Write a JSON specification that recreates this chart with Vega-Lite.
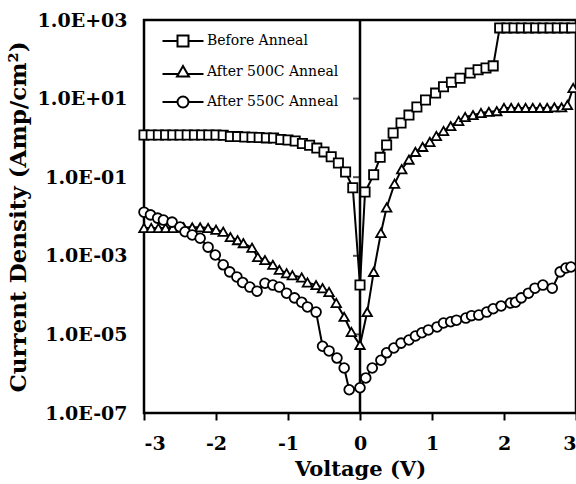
{
  "$schema": "https://vega.github.io/schema/vega-lite/v6.json",
  "width": 432,
  "height": 393,
  "autosize": {"type": "none"},
  "padding": {"left": 144, "top": 20, "right": 0, "bottom": 71},
  "background": "white",
  "config": {
    "font": "DejaVu Serif",
    "view": {"stroke": "black", "strokeWidth": 2.5},
    "axis": {"grid": false, "domain": false, "labelColor": "black", "titleColor": "black", "labelFont": "DejaVu Serif", "titleFont": "DejaVu Serif", "labelFontWeight": "bold", "titleFontWeight": "bold"}
  },
  "datasets": {
    "iv": [
      {"series": "Before Anneal", "v": -3.0, "j": 1.19},
      {"series": "Before Anneal", "v": -2.9, "j": 1.19},
      {"series": "Before Anneal", "v": -2.8, "j": 1.19},
      {"series": "Before Anneal", "v": -2.7, "j": 1.19},
      {"series": "Before Anneal", "v": -2.6, "j": 1.19},
      {"series": "Before Anneal", "v": -2.5, "j": 1.19},
      {"series": "Before Anneal", "v": -2.4, "j": 1.19},
      {"series": "Before Anneal", "v": -2.3, "j": 1.18},
      {"series": "Before Anneal", "v": -2.2, "j": 1.18},
      {"series": "Before Anneal", "v": -2.1, "j": 1.18},
      {"series": "Before Anneal", "v": -2.0, "j": 1.18},
      {"series": "Before Anneal", "v": -1.9, "j": 1.17},
      {"series": "Before Anneal", "v": -1.8, "j": 1.09},
      {"series": "Before Anneal", "v": -1.7, "j": 1.08},
      {"series": "Before Anneal", "v": -1.6, "j": 1.05},
      {"series": "Before Anneal", "v": -1.5, "j": 1.04},
      {"series": "Before Anneal", "v": -1.4, "j": 1.02},
      {"series": "Before Anneal", "v": -1.3, "j": 1.0},
      {"series": "Before Anneal", "v": -1.2, "j": 0.99},
      {"series": "Before Anneal", "v": -1.1, "j": 0.91},
      {"series": "Before Anneal", "v": -1.0, "j": 0.88},
      {"series": "Before Anneal", "v": -0.9, "j": 0.83},
      {"series": "Before Anneal", "v": -0.8, "j": 0.72},
      {"series": "Before Anneal", "v": -0.7, "j": 0.65},
      {"series": "Before Anneal", "v": -0.6, "j": 0.55},
      {"series": "Before Anneal", "v": -0.5, "j": 0.44},
      {"series": "Before Anneal", "v": -0.4, "j": 0.33},
      {"series": "Before Anneal", "v": -0.3, "j": 0.23},
      {"series": "Before Anneal", "v": -0.2, "j": 0.135},
      {"series": "Before Anneal", "v": -0.1, "j": 0.054},
      {"series": "Before Anneal", "v": 0.0, "j": 0.00018},
      {"series": "Before Anneal", "v": 0.07, "j": 0.042},
      {"series": "Before Anneal", "v": 0.19, "j": 0.115},
      {"series": "Before Anneal", "v": 0.28, "j": 0.32},
      {"series": "Before Anneal", "v": 0.37, "j": 0.66},
      {"series": "Before Anneal", "v": 0.46, "j": 1.33},
      {"series": "Before Anneal", "v": 0.57, "j": 2.4},
      {"series": "Before Anneal", "v": 0.68, "j": 3.8},
      {"series": "Before Anneal", "v": 0.79, "j": 6.1},
      {"series": "Before Anneal", "v": 0.91, "j": 9.2},
      {"series": "Before Anneal", "v": 1.05, "j": 13.8},
      {"series": "Before Anneal", "v": 1.16, "j": 20},
      {"series": "Before Anneal", "v": 1.27, "j": 26},
      {"series": "Before Anneal", "v": 1.39, "j": 33},
      {"series": "Before Anneal", "v": 1.53, "j": 45},
      {"series": "Before Anneal", "v": 1.64, "j": 54},
      {"series": "Before Anneal", "v": 1.75, "j": 60},
      {"series": "Before Anneal", "v": 1.85, "j": 68},
      {"series": "Before Anneal", "v": 1.94, "j": 630},
      {"series": "Before Anneal", "v": 2.04, "j": 630},
      {"series": "Before Anneal", "v": 2.14, "j": 630},
      {"series": "Before Anneal", "v": 2.24, "j": 630},
      {"series": "Before Anneal", "v": 2.34, "j": 630},
      {"series": "Before Anneal", "v": 2.44, "j": 630},
      {"series": "Before Anneal", "v": 2.54, "j": 630},
      {"series": "Before Anneal", "v": 2.64, "j": 630},
      {"series": "Before Anneal", "v": 2.74, "j": 630},
      {"series": "Before Anneal", "v": 2.84, "j": 630},
      {"series": "Before Anneal", "v": 2.94, "j": 630},

      {"series": "After 500C Anneal", "v": -3.0, "j": 0.0051},
      {"series": "After 500C Anneal", "v": -2.9, "j": 0.0051},
      {"series": "After 500C Anneal", "v": -2.8, "j": 0.0051},
      {"series": "After 500C Anneal", "v": -2.7, "j": 0.0051},
      {"series": "After 500C Anneal", "v": -2.6, "j": 0.0051},
      {"series": "After 500C Anneal", "v": -2.45, "j": 0.0053},
      {"series": "After 500C Anneal", "v": -2.33, "j": 0.0053},
      {"series": "After 500C Anneal", "v": -2.22, "j": 0.0053},
      {"series": "After 500C Anneal", "v": -2.11, "j": 0.0051},
      {"series": "After 500C Anneal", "v": -2.0, "j": 0.0046},
      {"series": "After 500C Anneal", "v": -1.9, "j": 0.0041},
      {"series": "After 500C Anneal", "v": -1.8, "j": 0.003},
      {"series": "After 500C Anneal", "v": -1.7, "j": 0.0025},
      {"series": "After 500C Anneal", "v": -1.62, "j": 0.0021},
      {"series": "After 500C Anneal", "v": -1.5, "j": 0.0016},
      {"series": "After 500C Anneal", "v": -1.42, "j": 0.00093},
      {"series": "After 500C Anneal", "v": -1.32, "j": 0.00078},
      {"series": "After 500C Anneal", "v": -1.21, "j": 0.00059},
      {"series": "After 500C Anneal", "v": -1.12, "j": 0.00044},
      {"series": "After 500C Anneal", "v": -1.02, "j": 0.00036},
      {"series": "After 500C Anneal", "v": -0.94, "j": 0.00032},
      {"series": "After 500C Anneal", "v": -0.81, "j": 0.00028},
      {"series": "After 500C Anneal", "v": -0.73, "j": 0.00021},
      {"series": "After 500C Anneal", "v": -0.61, "j": 0.00018},
      {"series": "After 500C Anneal", "v": -0.52, "j": 0.00015},
      {"series": "After 500C Anneal", "v": -0.43, "j": 0.00012},
      {"series": "After 500C Anneal", "v": -0.33, "j": 0.000063},
      {"series": "After 500C Anneal", "v": -0.22, "j": 0.000028},
      {"series": "After 500C Anneal", "v": -0.12, "j": 0.0000115},
      {"series": "After 500C Anneal", "v": 0.0, "j": 0.0000054},
      {"series": "After 500C Anneal", "v": 0.1, "j": 0.000037},
      {"series": "After 500C Anneal", "v": 0.19, "j": 0.00039},
      {"series": "After 500C Anneal", "v": 0.29, "j": 0.0038},
      {"series": "After 500C Anneal", "v": 0.37, "j": 0.017},
      {"series": "After 500C Anneal", "v": 0.48, "j": 0.068},
      {"series": "After 500C Anneal", "v": 0.58, "j": 0.16},
      {"series": "After 500C Anneal", "v": 0.68, "j": 0.28},
      {"series": "After 500C Anneal", "v": 0.77, "j": 0.44},
      {"series": "After 500C Anneal", "v": 0.87, "j": 0.59},
      {"series": "After 500C Anneal", "v": 0.97, "j": 0.79},
      {"series": "After 500C Anneal", "v": 1.06, "j": 1.12},
      {"series": "After 500C Anneal", "v": 1.16, "j": 1.5},
      {"series": "After 500C Anneal", "v": 1.26, "j": 2.0},
      {"series": "After 500C Anneal", "v": 1.37, "j": 2.7},
      {"series": "After 500C Anneal", "v": 1.46, "j": 3.4},
      {"series": "After 500C Anneal", "v": 1.57, "j": 3.8},
      {"series": "After 500C Anneal", "v": 1.68, "j": 4.3},
      {"series": "After 500C Anneal", "v": 1.79, "j": 4.6},
      {"series": "After 500C Anneal", "v": 1.9, "j": 4.8},
      {"series": "After 500C Anneal", "v": 2.0, "j": 5.8},
      {"series": "After 500C Anneal", "v": 2.1, "j": 5.8},
      {"series": "After 500C Anneal", "v": 2.2, "j": 5.8},
      {"series": "After 500C Anneal", "v": 2.3, "j": 5.8},
      {"series": "After 500C Anneal", "v": 2.4, "j": 5.8},
      {"series": "After 500C Anneal", "v": 2.5, "j": 5.8},
      {"series": "After 500C Anneal", "v": 2.6, "j": 5.8},
      {"series": "After 500C Anneal", "v": 2.7, "j": 6.0},
      {"series": "After 500C Anneal", "v": 2.8, "j": 6.0},
      {"series": "After 500C Anneal", "v": 2.88, "j": 6.9},
      {"series": "After 500C Anneal", "v": 2.96, "j": 18.6},

      {"series": "After 550C Anneal", "v": -3.0, "j": 0.0129},
      {"series": "After 550C Anneal", "v": -2.91, "j": 0.011},
      {"series": "After 550C Anneal", "v": -2.81, "j": 0.0091},
      {"series": "After 550C Anneal", "v": -2.73, "j": 0.0081},
      {"series": "After 550C Anneal", "v": -2.61, "j": 0.0072},
      {"series": "After 550C Anneal", "v": -2.5, "j": 0.0054},
      {"series": "After 550C Anneal", "v": -2.43, "j": 0.0041},
      {"series": "After 550C Anneal", "v": -2.33, "j": 0.0034},
      {"series": "After 550C Anneal", "v": -2.22, "j": 0.0028},
      {"series": "After 550C Anneal", "v": -2.11, "j": 0.00166},
      {"series": "After 550C Anneal", "v": -2.01, "j": 0.00105},
      {"series": "After 550C Anneal", "v": -1.9, "j": 0.00059},
      {"series": "After 550C Anneal", "v": -1.81, "j": 0.00039},
      {"series": "After 550C Anneal", "v": -1.71, "j": 0.00029},
      {"series": "After 550C Anneal", "v": -1.63, "j": 0.00021},
      {"series": "After 550C Anneal", "v": -1.53, "j": 0.00016},
      {"series": "After 550C Anneal", "v": -1.43, "j": 0.000126},
      {"series": "After 550C Anneal", "v": -1.32, "j": 0.0002},
      {"series": "After 550C Anneal", "v": -1.21, "j": 0.00018},
      {"series": "After 550C Anneal", "v": -1.12, "j": 0.00016},
      {"series": "After 550C Anneal", "v": -1.02, "j": 0.000112},
      {"series": "After 550C Anneal", "v": -0.91, "j": 0.000085},
      {"series": "After 550C Anneal", "v": -0.81, "j": 0.000066},
      {"series": "After 550C Anneal", "v": -0.73, "j": 0.00005},
      {"series": "After 550C Anneal", "v": -0.61, "j": 0.000037},
      {"series": "After 550C Anneal", "v": -0.52, "j": 0.000005},
      {"series": "After 550C Anneal", "v": -0.43, "j": 0.0000038},
      {"series": "After 550C Anneal", "v": -0.32, "j": 0.0000025},
      {"series": "After 550C Anneal", "v": -0.22, "j": 0.0000014},
      {"series": "After 550C Anneal", "v": -0.15, "j": 0.00000039},
      {"series": "After 550C Anneal", "v": 0.0, "j": 0.00000044},
      {"series": "After 550C Anneal", "v": 0.08, "j": 0.00000078},
      {"series": "After 550C Anneal", "v": 0.17, "j": 0.0000014},
      {"series": "After 550C Anneal", "v": 0.29, "j": 0.0000022},
      {"series": "After 550C Anneal", "v": 0.37, "j": 0.0000034},
      {"series": "After 550C Anneal", "v": 0.47, "j": 0.0000045},
      {"series": "After 550C Anneal", "v": 0.57, "j": 0.000006},
      {"series": "After 550C Anneal", "v": 0.68, "j": 0.0000072},
      {"series": "After 550C Anneal", "v": 0.77, "j": 0.0000091},
      {"series": "After 550C Anneal", "v": 0.86, "j": 0.000011},
      {"series": "After 550C Anneal", "v": 0.95, "j": 0.000013},
      {"series": "After 550C Anneal", "v": 1.07, "j": 0.0000155},
      {"series": "After 550C Anneal", "v": 1.16, "j": 0.0000195},
      {"series": "After 550C Anneal", "v": 1.26, "j": 0.000021},
      {"series": "After 550C Anneal", "v": 1.34, "j": 0.000023},
      {"series": "After 550C Anneal", "v": 1.47, "j": 0.000026},
      {"series": "After 550C Anneal", "v": 1.55, "j": 0.00003},
      {"series": "After 550C Anneal", "v": 1.65, "j": 0.000031},
      {"series": "After 550C Anneal", "v": 1.76, "j": 0.000037},
      {"series": "After 550C Anneal", "v": 1.85, "j": 0.000045},
      {"series": "After 550C Anneal", "v": 1.96, "j": 0.000053},
      {"series": "After 550C Anneal", "v": 2.09, "j": 0.000063},
      {"series": "After 550C Anneal", "v": 2.16, "j": 0.000066},
      {"series": "After 550C Anneal", "v": 2.24, "j": 0.000085},
      {"series": "After 550C Anneal", "v": 2.34, "j": 0.000112},
      {"series": "After 550C Anneal", "v": 2.43, "j": 0.00015},
      {"series": "After 550C Anneal", "v": 2.54, "j": 0.00018},
      {"series": "After 550C Anneal", "v": 2.67, "j": 0.00015},
      {"series": "After 550C Anneal", "v": 2.78, "j": 0.00039},
      {"series": "After 550C Anneal", "v": 2.86, "j": 0.00049},
      {"series": "After 550C Anneal", "v": 2.93, "j": 0.00052}
    ],
    "ticks": [
      {"v": 0, "j": 1000},
      {"v": 0, "j": 10},
      {"v": 0, "j": 0.1},
      {"v": 0, "j": 0.001},
      {"v": 0, "j": 0.00001},
      {"v": 0, "j": 0.0000001}
    ]
  },
  "layer": [
    {
      "data": {"values": [{"v": 0, "lo": 0.0000001, "hi": 1000}]},
      "mark": {"type": "rule", "color": "black", "strokeWidth": 2.5},
      "encoding": {
        "x": {"field": "v", "type": "quantitative"},
        "y": {"field": "lo", "type": "quantitative"},
        "y2": {"field": "hi"}
      }
    },
    {
      "data": {"name": "ticks"},
      "mark": {"type": "tick", "orient": "horizontal", "color": "black", "size": 7, "thickness": 2, "xOffset": -3.5},
      "encoding": {
        "x": {"field": "v", "type": "quantitative"},
        "y": {"field": "j", "type": "quantitative"}
      }
    },
    {
      "data": {"name": "iv"},
      "mark": {"type": "line", "color": "black", "strokeWidth": 2},
      "encoding": {
        "x": {"field": "v", "type": "quantitative"},
        "y": {"field": "j", "type": "quantitative"},
        "detail": {"field": "series"}
      }
    },
    {
      "data": {"name": "iv"},
      "transform": [{"filter": "datum.series === 'Before Anneal'"}],
      "mark": {"type": "point", "shape": "square", "filled": true, "fill": "white", "stroke": "black", "strokeWidth": 1.8, "size": 85, "opacity": 1},
      "encoding": {
        "x": {"field": "v", "type": "quantitative"},
        "y": {"field": "j", "type": "quantitative"}
      }
    },
    {
      "data": {"name": "iv"},
      "transform": [{"filter": "datum.series === 'After 500C Anneal'"}],
      "mark": {"type": "point", "shape": "triangle-up", "filled": true, "fill": "white", "stroke": "black", "strokeWidth": 1.8, "size": 90, "opacity": 1},
      "encoding": {
        "x": {"field": "v", "type": "quantitative"},
        "y": {"field": "j", "type": "quantitative"}
      }
    },
    {
      "data": {"name": "iv"},
      "transform": [{"filter": "datum.series === 'After 550C Anneal'"}],
      "mark": {"type": "point", "shape": "circle", "filled": true, "fill": "white", "stroke": "black", "strokeWidth": 1.8, "size": 95, "opacity": 1},
      "encoding": {
        "x": {"field": "v", "type": "quantitative"},
        "y": {"field": "j", "type": "quantitative"}
      }
    },
    {
      "data": {"name": "iv"},
      "mark": {"type": "point", "filled": true, "fill": "white", "stroke": "black", "strokeWidth": 2, "opacity": 0},
      "encoding": {
        "x": {"field": "v", "type": "quantitative"},
        "y": {"field": "j", "type": "quantitative"},
        "shape": {"field": "series", "type": "nominal",
          "scale": {"domain": ["Before Anneal", "After 500C Anneal", "After 550C Anneal"],
            "range": [
              "M-2.05,0H-0.55M0.55,0H2.05M-0.55,-0.55H0.55V0.55H-0.55Z",
              "M-2.05,0.2H-0.48M0.48,0.2H2.05M0,-0.6L0.6,0.45H-0.6Z",
              "M-2.05,0H-0.55M0.55,0H2.05M0.55,0A0.55,0.55,0,1,1,-0.55,0A0.55,0.55,0,1,1,0.55,0Z"
            ]},
          "legend": {
            "title": null,
            "orient": "none",
            "legendX": 28,
            "legendY": 10,
            "symbolSize": 400,
            "symbolOpacity": 1,
            "symbolStrokeWidth": 2,
            "labelFont": "DejaVu Serif",
            "labelFontSize": 14,
            "labelColor": "black",
            "labelOffset": 13,
            "rowPadding": 10
          }}
      }
    }
  ],
  "encoding": {
    "x": {"field": "v", "type": "quantitative",
      "scale": {"domain": [-3, 3], "nice": false, "zero": false},
      "axis": {"title": "Voltage (V)", "values": [-3, -2, -1, 0, 1, 2, 3], "format": "d", "labelExpr": "replace(datum.label, '−', '-')", "tickSize": 7, "tickWidth": 2, "tickColor": "black", "labelFontSize": 19, "titleFontSize": 21, "labelPadding": 14, "titlePadding": 5}},
    "y": {"field": "j", "type": "quantitative",
      "scale": {"type": "log", "domain": [0.0000001, 1000], "nice": false},
      "axis": {"title": "Current Density (Amp/cm²)", "values": [1000, 10, 0.1, 0.001, 0.00001, 0.0000001], "ticks": false,
        "labelExpr": "datum.value > 100 ? '1.0E+03' : datum.value > 1 ? '1.0E+01' : datum.value > 0.01 ? '1.0E-01' : datum.value > 0.0001 ? '1.0E-03' : datum.value > 0.000001 ? '1.0E-05' : '1.0E-07'",
        "labelFontSize": 19, "titleFontSize": 23, "labelPadding": 17, "titlePadding": 7}}
  }
}
